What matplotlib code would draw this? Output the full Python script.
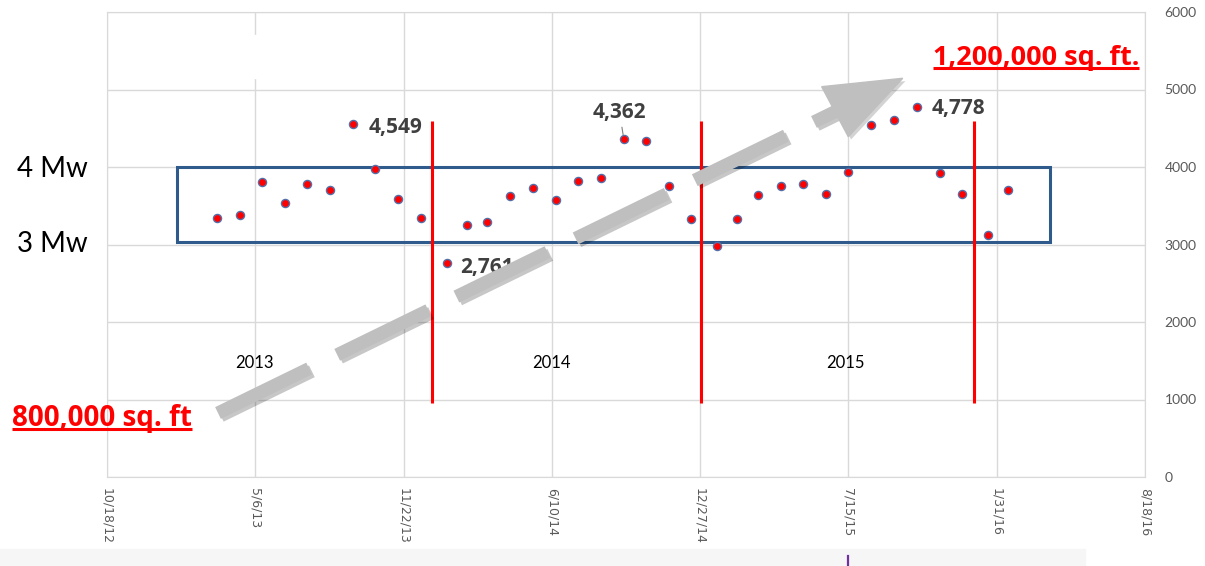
import matplotlib
matplotlib.use("Agg")
import matplotlib.pyplot as plt
import matplotlib.dates as mdates
import matplotlib.patheffects as pe
from matplotlib.patches import Rectangle, Polygon
import pandas as pd

plt.rcParams["font.family"] = ["Lato", "DejaVu Sans"]
plt.rcParams["lines.scale_dashes"] = False

# monthly peak demand readings (kW)
reading_dates = [
    "2013-03-15", "2013-04-15", "2013-05-15", "2013-06-15", "2013-07-15", "2013-08-15",
    "2013-09-15", "2013-10-15", "2013-11-15", "2013-12-15", "2014-01-19", "2014-02-15",
    "2014-03-15", "2014-04-15", "2014-05-15", "2014-06-15", "2014-07-15", "2014-08-15",
    "2014-09-15", "2014-10-15", "2014-11-15", "2014-12-15", "2015-01-19", "2015-02-15",
    "2015-03-15", "2015-04-15", "2015-05-15", "2015-06-15", "2015-07-15", "2015-08-15",
    "2015-09-15", "2015-10-15", "2015-11-15", "2015-12-15", "2016-01-19", "2016-02-15",
]
demand_kw = [
    3342, 3381, 3801, 3535, 3785, 3707, 4549, 3978, 3591, 3342, 2761, 3246,
    3290, 3630, 3724, 3574, 3823, 3862, 4362, 4339, 3750, 3324, 2975, 3324,
    3634, 3750, 3785, 3652, 3935, 4546, 4610, 4778, 3917, 3652, 3117, 3707,
]
labelled_points = [6, 10, 18, 31]

x_tick_labels = ["10/18/12", "5/6/13", "11/22/13", "6/10/14",
                 "12/27/14", "7/15/15", "1/31/16", "8/18/16"]
y_ticks = [0, 1000, 2000, 3000, 4000, 5000, 6000]

year_names = ["2013", "2014", "2015"]
year_boundaries = ["2013-12-30", "2014-12-28", "2016-01-01"]

band_low, band_high = 3030, 4000

GRID = "#d9d9d9"
TICK = "#595959"
BOLD = ["Open Sans", "DejaVu Sans"]


def main() -> None:
    fig = plt.figure(figsize=(12.05, 5.66), dpi=100)
    ax = fig.add_axes([107 / 1205, 89 / 566, 1038 / 1205, 465 / 566])

    dates = mdates.date2num(pd.to_datetime(reading_dates))
    tick_pos = mdates.date2num(pd.to_datetime(x_tick_labels, format="%m/%d/%y"))

    ax.set_xlim(tick_pos[0], tick_pos[-1])
    ax.set_ylim(y_ticks[0], y_ticks[-1])
    ax.set_xticks(tick_pos)
    ax.set_xticklabels(x_tick_labels, rotation=270, color=TICK, fontsize=9,
                       family="DejaVu Sans")
    ax.set_yticks(y_ticks)
    ax.yaxis.tick_right()
    ax.tick_params(axis="both", length=0)
    ax.tick_params(axis="x", pad=8)
    ax.tick_params(axis="y", pad=14, labelcolor=TICK, labelsize=10)
    ax.grid(True, color=GRID, lw=1)
    ax.set_axisbelow(True)
    for s in ax.spines.values():
        s.set_color(GRID)

    # 3-4 MW band
    band_x0 = mdates.date2num(pd.Timestamp("2013-01-20"))
    band_x1 = mdates.date2num(pd.Timestamp("2016-04-12"))
    ax.add_patch(Rectangle((band_x0, band_low), band_x1 - band_x0,
                           band_high - band_low, fill=False,
                           edgecolor="#2F5A8C", lw=2.2, zorder=2))

    # year separators
    ax.vlines(mdates.date2num(pd.to_datetime(year_boundaries)), 960, 4600,
              color="#ff0000", lw=2.2, zorder=3)

    ax.scatter(dates, demand_kw, s=34, color="#ff0000", edgecolor="#5470a8",
               lw=1, zorder=4)

    offsets = {6: (11, -2), 10: (10, -3), 18: (-3, 19), 31: (11, -1)}
    for i in labelled_points:
        dx, dy = offsets[i]
        ha = "center" if i == 18 else "left"
        kw = {}
        if i == 18:
            kw["arrowprops"] = dict(arrowstyle="-", color="#7f7f7f", lw=0.8,
                                    shrinkA=1, shrinkB=3)
        ax.annotate(f"{demand_kw[i]:,}", (dates[i], demand_kw[i]),
                    xytext=(dx, dy), textcoords="offset points",
                    ha=ha, va="center", fontsize=15, fontweight="bold",
                    family=BOLD, color="#404040", zorder=5, **kw)

    year_pos = mdates.date2num(pd.to_datetime(["2013-05-05", "2014-06-09", "2015-07-11"]))
    for name, xp in zip(year_names, year_pos):
        ax.text(xp, 1475, name, ha="center", va="center", fontsize=12,
                color="black")

    # overlay in pixel coordinates for annotations
    ov = fig.add_axes([0, 0, 1, 1])
    ov.set_xlim(0, 1205)
    ov.set_ylim(566, 0)
    ov.axis("off")
    ov.patch.set_alpha(0)

    ov.add_patch(Rectangle((254, 35), 5, 43, color="white", zorder=1))

    ov.text(17, 169, "4 Mw", fontsize=20, va="center", ha="left")
    ov.text(17, 244, "3 Mw", fontsize=20, va="center", ha="left")

    # growth arrow
    shadow = [pe.SimpleLineShadow(offset=(2, -2), shadow_color="k", alpha=0.22),
              pe.Normal()]
    ov.plot([218, 835], [413, 111.7], color="#bfbfbf", lw=9.4,
            solid_capstyle="butt", dash_capstyle="butt",
            dashes=(73, 22.5), path_effects=shadow, zorder=3)
    ov.add_patch(Polygon([(821.7, 86.7), (902.7, 78.3), (848.3, 136.7)],
                         closed=True, color="#bfbfbf", zorder=3,
                         path_effects=[pe.SimplePatchShadow(offset=(2, -2), alpha=0.22),
                                       pe.Normal()]))

    t1 = ov.text(12, 426, "800,000 sq. ft", fontsize=20, fontweight="bold",
                 family=BOLD, color="#ff0000", va="baseline", ha="left")
    t2 = ov.text(933, 65, "1,200,000 sq. ft.", fontsize=19.5, fontweight="bold",
                 family=BOLD, color="#ff0000", va="baseline", ha="left")
    fig.canvas.draw()
    inv = ov.transData.inverted()
    for t, base in ((t1, 426), (t2, 65)):
        bb = t.get_window_extent()
        x0 = inv.transform((bb.x0, bb.y0))[0]
        x1 = inv.transform((bb.x1, bb.y0))[0]
        ov.plot([x0, x1], [base + 2.5, base + 2.5], color="#ff0000", lw=2.2,
                solid_capstyle="butt")

    # bottom strip of the slide
    ov.add_patch(Rectangle((0, 549), 1085, 17, color="#f6f6f6", zorder=0))
    ov.plot([848, 848], [556, 566], color="#7030a0", lw=1.6)

    fig.savefig("out.png", dpi=100)


if __name__ == "__main__":
    main()
